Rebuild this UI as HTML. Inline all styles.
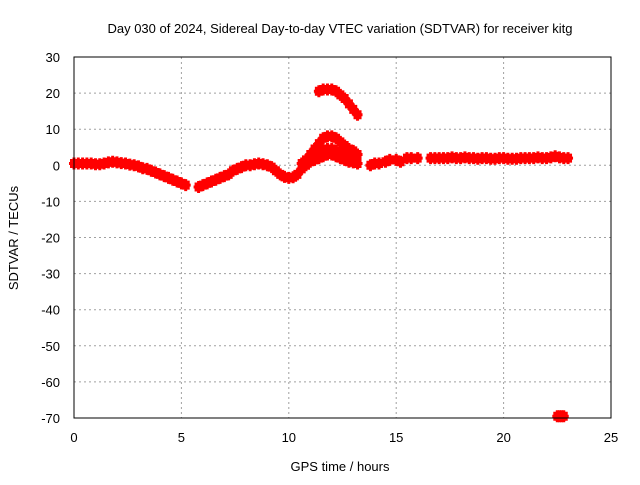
<!DOCTYPE html>
<html><head><meta charset="utf-8"><style>
body{margin:0;background:#fff;}
svg text{font-family:"Liberation Sans",sans-serif;font-size:13px;fill:#000;}
</style></head><body>
<svg id="chart" width="640" height="480" xmlns="http://www.w3.org/2000/svg">
<text x="340" y="33" text-anchor="middle">Day 030 of 2024, Sidereal Day-to-day VTEC variation (SDTVAR) for receiver kitg</text>
<text x="340" y="471" text-anchor="middle">GPS time / hours</text>
<text transform="translate(18,238) rotate(-90)" text-anchor="middle">SDTVAR / TECUs</text>
<g id="grid"></g><g id="ticks"></g><g id="marks"></g>
<rect x="74" y="57" width="537" height="361" fill="none" stroke="#000" stroke-width="1"/>
</svg>
<script>
const xTicks=[0,5,10,15,20,25];
const yTicks=[30,20,10,0,-10,-20,-30,-40,-50,-60,-70];
const hours=[0,0.2,0.4,0.6,0.8,1.0,1.2,1.4,1.6,1.8,2.0,2.2,2.4,2.6,2.8,3.0,3.2,3.4,3.6,3.8,4.0,4.2,4.4,4.6,4.8,5.0,5.2,
5.8,6.0,6.2,6.4,6.6,6.8,7.0,7.2,7.4,7.6,7.8,8.0,8.2,8.4,8.6,8.8,9.0,9.2,9.4,9.6,9.8,10.0,10.2,10.4,10.6,10.8,11.0,11.2,11.4,11.6,11.8,12.0,12.2,12.4,12.6,12.8,13.0,13.2,
10.6,10.8,11.0,11.2,11.4,11.6,11.8,12.0,12.2,12.4,12.6,12.8,13.0,13.2,
11.0,11.2,11.4,11.6,11.8,12.0,12.2,12.4,12.6,12.8,13.0,
11.4,11.6,11.8,12.0,12.2,12.4,12.6,12.8,13.0,13.2,
13.8,14.0,14.2,14.5,14.7,15.0,15.2,15.5,15.7,16.0,
16.6,16.8,17.0,17.2,17.4,17.6,17.8,18.0,18.2,18.4,18.6,18.8,19.0,19.2,19.4,19.6,19.8,20.0,20.2,20.4,20.6,20.8,21.0,21.2,21.4,21.6,21.8,22.0,22.2,22.4,22.6,22.8,23.0,
22.5,22.6,22.7,22.8];
const sdtvar=[0.5,0.5,0.5,0.5,0.5,0.3,0.3,0.5,0.8,1,0.8,0.6,0.5,0.2,0,-0.3,-0.8,-1,-1.5,-2,-2.5,-3,-3.5,-4,-4.5,-5,-5.5,
-6,-5.5,-5,-4.5,-4,-3.5,-3,-2.5,-1.5,-1,-0.5,0,0,0.3,0.5,0.3,0,-0.5,-1.5,-2.5,-3.2,-3.5,-3.3,-2.5,-1,0,1,1.5,2,2.5,3,3,2.5,2,1.5,1,0.8,0.5,
0.5,1.5,3,4.5,6,7.5,8,8,7.5,6.5,5.5,4.5,4,3,
2,3,3.5,4,4.5,4.5,4,3.5,3,2.5,2,
20.5,21,21,21,20.5,19.5,18.5,17,15.5,14,
0,0.5,0.5,1,1.5,1.5,1,2,2,2,
2,2,2,2,2,2.2,2,2,2.2,2,2,1.8,2,2,1.8,1.8,2,2,1.8,1.8,1.8,2,2,2,2,2.2,2,2,2.2,2.5,2.2,2,2,
-69.5,-69.5,-69.5,-69.5];
const X=v=>74+v*537/25, Y=v=>57+(30-v)*361/100;
const NS='http://www.w3.org/2000/svg';
const grid=document.getElementById('grid'),ticks=document.getElementById('ticks'),marks=document.getElementById('marks');
function mk(t,a,p){const e=document.createElementNS(NS,t);for(const k in a)e.setAttribute(k,a[k]);p.appendChild(e);return e;}
xTicks.forEach(v=>{
 if(v>0&&v<25){const g=mk('line',{x1:X(v),x2:X(v),y1:57,y2:418,stroke:'#a0a0a0','stroke-dasharray':'2,3'},grid);
 
 }
 const t=mk('text',{x:X(v),y:442,'text-anchor':'middle'},ticks);t.textContent=v;
 
 
});
yTicks.forEach(v=>{
 if(v<30&&v>-70){const g=mk('line',{x1:74,x2:611,y1:Y(v),y2:Y(v),stroke:'#a0a0a0','stroke-dasharray':'2,3'},grid);
 
 }
 const t=mk('text',{x:60,y:Y(v)+5,'text-anchor':'end'},ticks);t.textContent=v;
 
 
});
hours.forEach((h,i)=>{
 const x=X(h),y=Y(sdtvar[i]);
 const p=mk('path',{d:`M${x-5},${y}H${x+5}M${x},${y-6}V${y+6}M${x-4},${y-3}H${x+4}M${x-4},${y+3}H${x+4}`,stroke:'#ff0000','stroke-width':3,fill:'none'},marks);
 
 
});
</script>
</body></html>
